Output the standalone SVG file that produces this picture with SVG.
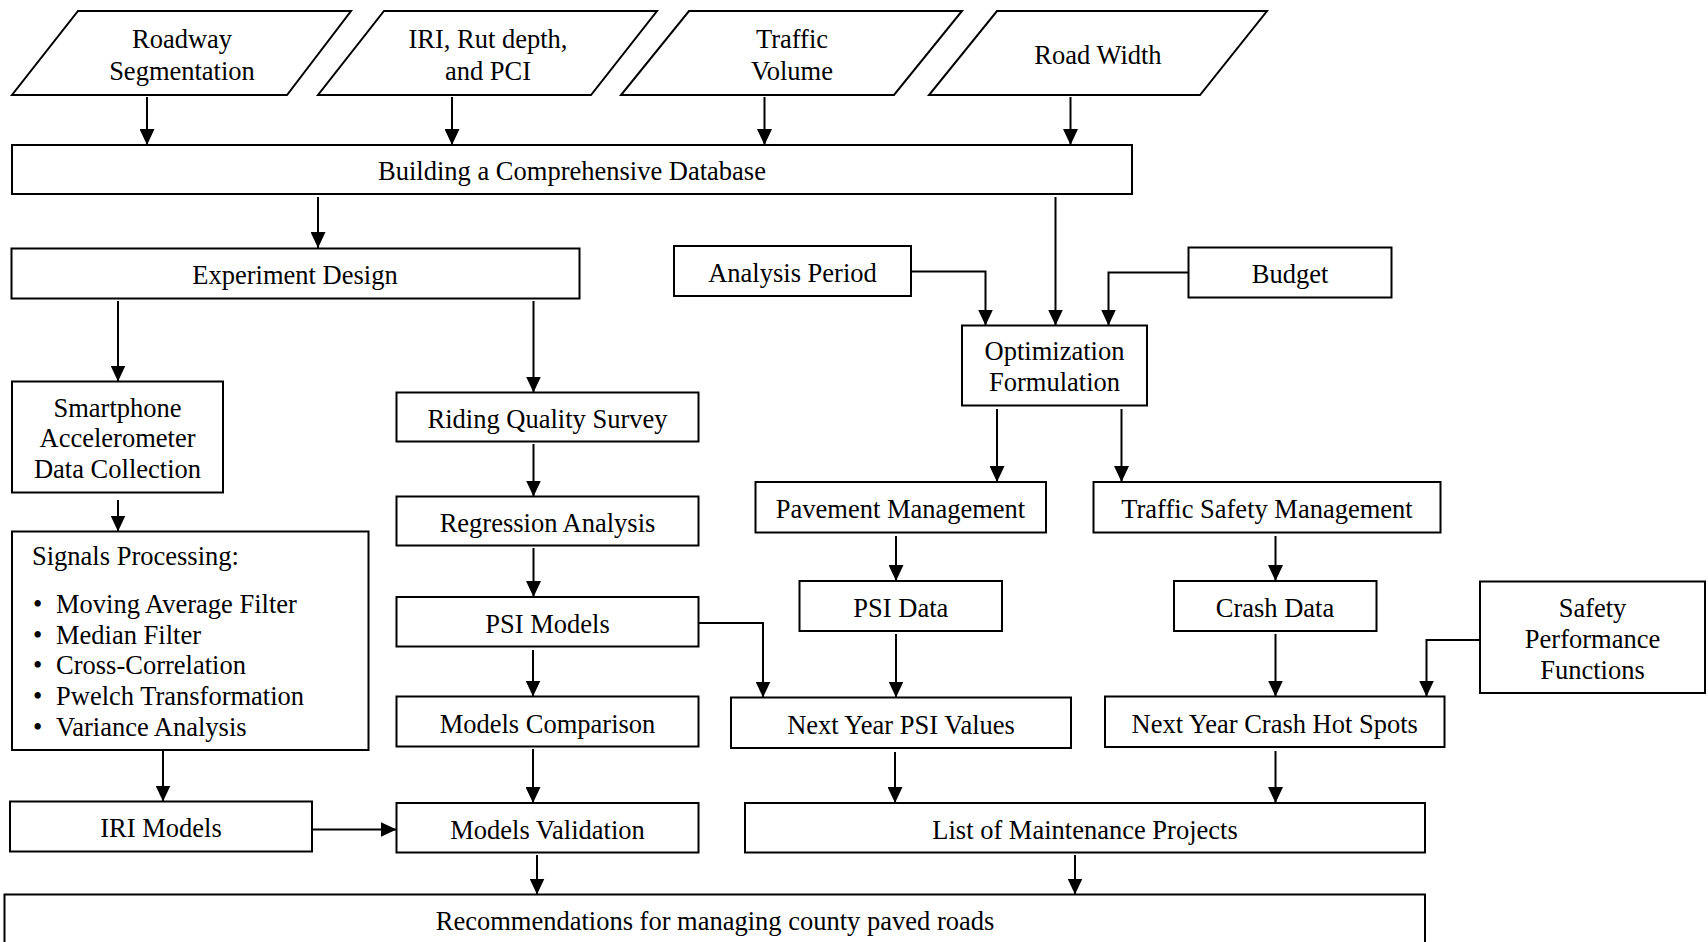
<svg xmlns="http://www.w3.org/2000/svg" width="1708" height="942" viewBox="0 0 1708 942">
<style>
.b{fill:#fff;stroke:#000;stroke-width:2}
.t{font-family:"Liberation Serif","Times New Roman",serif;font-size:26.5px;fill:#000;text-anchor:middle}
.l{text-anchor:start}
.c{fill:none;stroke:#000;stroke-width:2}
</style>
<defs>
<marker id="a" markerUnits="userSpaceOnUse" markerWidth="16" markerHeight="15" refX="16" refY="7.5" orient="auto">
<path d="M0,0 L16,7.5 L0,15 z" fill="#000"/>
</marker>
</defs>
<rect width="1708" height="942" fill="#fff"/>
<g id="connectors">
<path class="c" marker-end="url(#a)" d="M147,97 V145"/>
<path class="c" marker-end="url(#a)" d="M452,97 V145"/>
<path class="c" marker-end="url(#a)" d="M764.5,97 V145"/>
<path class="c" marker-end="url(#a)" d="M1070.5,97 V145"/>
<path class="c" marker-end="url(#a)" d="M318,197 V248"/>
<path class="c" marker-end="url(#a)" d="M1055.5,197 V325.5"/>
<path class="c" marker-end="url(#a)" d="M911,271.5 H985.5 V325.5"/>
<path class="c" marker-end="url(#a)" d="M1188.5,272.5 H1108.5 V325.5"/>
<path class="c" marker-end="url(#a)" d="M118,301 V381.5"/>
<path class="c" marker-end="url(#a)" d="M533.5,301 V392.5"/>
<path class="c" marker-end="url(#a)" d="M533.5,444 V496.5"/>
<path class="c" marker-end="url(#a)" d="M118,500 V531.5"/>
<path class="c" marker-end="url(#a)" d="M533.5,548 V597"/>
<path class="c" marker-end="url(#a)" d="M533,650 V696.5"/>
<path class="c" marker-end="url(#a)" d="M533,749 V803"/>
<path class="c" marker-end="url(#a)" d="M163,750 V801.5"/>
<path class="c" marker-end="url(#a)" d="M312,829.5 H396.5"/>
<path class="c" marker-end="url(#a)" d="M537,855 V894.5"/>
<path class="c" marker-end="url(#a)" d="M997,409 V482"/>
<path class="c" marker-end="url(#a)" d="M1121.5,409 V482"/>
<path class="c" marker-end="url(#a)" d="M896,536 V581"/>
<path class="c" marker-end="url(#a)" d="M1275.5,536 V581"/>
<path class="c" marker-end="url(#a)" d="M698.5,623 H763 V697.5"/>
<path class="c" marker-end="url(#a)" d="M896,634 V697.5"/>
<path class="c" marker-end="url(#a)" d="M1275.5,634 V696.5"/>
<path class="c" marker-end="url(#a)" d="M1480,640 H1426.5 V696.5"/>
<path class="c" marker-end="url(#a)" d="M895,752 V803"/>
<path class="c" marker-end="url(#a)" d="M1275.5,751 V803"/>
<path class="c" marker-end="url(#a)" d="M1075,855 V894.5"/>
</g>
<g id="n_roadway"><path class="b" d="M78,11 H351 L287,95 H12 Z"/><text class="t" x="182" y="48">Roadway</text><text class="t" x="182" y="79.5">Segmentation</text></g>
<g id="n_iri"><path class="b" d="M384,11 H657 L591,95 H318 Z"/><text class="t" x="488" y="48">IRI, Rut depth,</text><text class="t" x="488" y="79.5">and PCI</text></g>
<g id="n_traffic"><path class="b" d="M689,11 H962 L894,95 H621 Z"/><text class="t" x="792" y="48">Traffic</text><text class="t" x="792" y="79.5">Volume</text></g>
<g id="n_width"><path class="b" d="M997,11 H1267 L1200,95 H929 Z"/><text class="t" x="1098" y="63.5">Road Width</text></g>
<g id="n_db"><rect class="b" x="12" y="145" width="1120" height="49"/><text class="t" x="572" y="180">Building a Comprehensive Database</text></g>
<g id="n_exp"><rect class="b" x="11.5" y="248.5" width="568" height="50"/><text class="t" x="295" y="283.5">Experiment Design</text></g>
<g id="n_period"><rect class="b" x="674" y="246" width="237" height="50"/><text class="t" x="792.5" y="281.5">Analysis Period</text></g>
<g id="n_budget"><rect class="b" x="1188.5" y="247.5" width="203" height="50"/><text class="t" x="1290" y="282.5">Budget</text></g>
<g id="n_opt"><rect class="b" x="962" y="325.5" width="185" height="80"/><text class="t" x="1054.5" y="359.5">Optimization</text><text class="t" x="1054.5" y="390.5">Formulation</text></g>
<g id="n_phone"><rect class="b" x="12" y="381.5" width="211" height="111"/><text class="t" x="117.5" y="416.5">Smartphone</text><text class="t" x="117.5" y="447">Accelerometer</text><text class="t" x="117.5" y="478">Data Collection</text></g>
<g id="n_rqs"><rect class="b" x="396.5" y="392.5" width="302" height="49"/><text class="t" x="547.5" y="427.5">Riding Quality Survey</text></g>
<g id="n_reg"><rect class="b" x="396.5" y="496.5" width="302" height="49"/><text class="t" x="547.5" y="531.5">Regression Analysis</text></g>
<g id="n_psim"><rect class="b" x="396.5" y="597" width="302" height="49.5"/><text class="t" x="547.5" y="632.5">PSI Models</text></g>
<g id="n_comp"><rect class="b" x="396.5" y="696.5" width="302" height="50"/><text class="t" x="547.5" y="732.5">Models Comparison</text></g>
<g id="n_valid"><rect class="b" x="396.5" y="803" width="302" height="49.5"/><text class="t" x="547.5" y="839">Models Validation</text></g>
<g id="n_signals"><rect class="b" x="12" y="531.5" width="356.5" height="218.5"/>
<text class="t l" x="32" y="565">Signals Processing:</text>
<text class="t l" x="33" y="612.5">•</text><text class="t l" x="56" y="612.5">Moving Average Filter</text>
<text class="t l" x="33" y="643.5">•</text><text class="t l" x="56" y="643.5">Median Filter</text>
<text class="t l" x="33" y="674">•</text><text class="t l" x="56" y="674">Cross-Correlation</text>
<text class="t l" x="33" y="704.5">•</text><text class="t l" x="56" y="704.5">Pwelch Transformation</text>
<text class="t l" x="33" y="735.5">•</text><text class="t l" x="56" y="735.5">Variance Analysis</text>
</g>
<g id="n_irim"><rect class="b" x="10" y="801.5" width="302" height="50"/><text class="t" x="161" y="836.5">IRI Models</text></g>
<g id="n_pav"><rect class="b" x="755.5" y="482" width="290.5" height="50.5"/><text class="t" x="900.5" y="518">Pavement Management</text></g>
<g id="n_tsm"><rect class="b" x="1093.5" y="482" width="347" height="50.5"/><text class="t" x="1267" y="518">Traffic Safety Management</text></g>
<g id="n_psid"><rect class="b" x="799.5" y="581" width="202.5" height="50"/><text class="t" x="900.8" y="616.5">PSI Data</text></g>
<g id="n_crash"><rect class="b" x="1174" y="581" width="202.5" height="50"/><text class="t" x="1275" y="616.5">Crash Data</text></g>
<g id="n_spf"><rect class="b" x="1480" y="581.5" width="225" height="111.5"/><text class="t" x="1592.5" y="617">Safety</text><text class="t" x="1592.5" y="648">Performance</text><text class="t" x="1592.5" y="679">Functions</text></g>
<g id="n_nypsi"><rect class="b" x="731" y="697.5" width="340" height="50.5"/><text class="t" x="901" y="733.5">Next Year PSI Values</text></g>
<g id="n_nychs"><rect class="b" x="1105" y="696.5" width="339.5" height="50.5"/><text class="t" x="1274.7" y="732.5">Next Year Crash Hot Spots</text></g>
<g id="n_list"><rect class="b" x="745" y="803" width="680" height="49.5"/><text class="t" x="1085" y="839">List of Maintenance Projects</text></g>
<g id="n_rec"><rect class="b" x="4.5" y="894.5" width="1420.5" height="60"/><text class="t" x="715" y="930">Recommendations for managing county paved roads</text></g>
</svg>
